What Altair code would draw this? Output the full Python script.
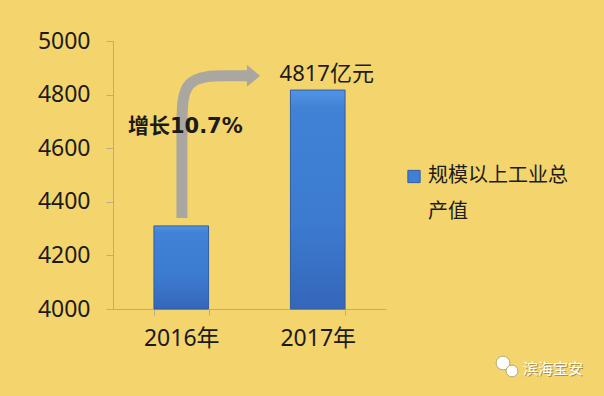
import altair as alt
import pandas as pd

# Industrial output above designated size, in 100-million yuan
years = ["2016年", "2017年"]
output = [4310, 4817]
series_name = "规模以上工业总产值"
unit = "亿元"
growth_text = "增长10.7%"
y_ticks = [4000, 4200, 4400, 4600, 4800, 5000]
watermark = "滨海宝安"

# growth arrow path: position along the category axis (0..2) and value
arrow_pos = [0.505, 0.505, 0.505, 0.505, 0.855, 0.985, 0.985]
arrow_val = [4340, 4340, 4690, 4870, 4870, 4870, 4870]

BG = "#F4D46C"
AXIS = "#B9AD86"
TEXT = "#1b1b1b"
LATIN = "Noto Sans, Noto Sans CJK SC"
CJK = "Noto Sans CJK SC"

bars_df = pd.DataFrame({"year": years, "value": output, "base": [y_ticks[0]] * len(years)})
arrow_df = pd.DataFrame({"pos": arrow_pos, "val": arrow_val, "order": list(range(len(arrow_pos)))})
one = pd.DataFrame({"name": [series_name]})

bar_fill = alt.Gradient(
    gradient="linear",
    stops=[
        alt.GradientStop(color="#5294E4", offset=0),
        alt.GradientStop(color="#4182D6", offset=0.08),
        alt.GradientStop(color="#3C7BD0", offset=0.6),
        alt.GradientStop(color="#3566BA", offset=1),
    ],
    x1=0, x2=0, y1=0, y2=1,
)

y_scale = alt.Scale(domain=[y_ticks[0], y_ticks[-1]], nice=False, zero=False)
x_band = alt.Scale(paddingInner=0.6, paddingOuter=0.3)

x_axis = alt.Axis(labelAngle=0, tickBand="extent", ticks=True, tickSize=6, labelPadding=12,
                  labelFont=LATIN, labelFontSize=23, labelColor=TEXT,
                  domainColor=AXIS, tickColor=AXIS, labelBaseline="top", grid=False)
y_axis = alt.Axis(values=y_ticks, format="d", grid=False, ticks=True, tickSize=7, labelPadding=16,
                  labelFont=LATIN, labelFontSize=23, labelColor=TEXT,
                  domainColor=AXIS, tickColor=AXIS)

bars = alt.Chart(bars_df).mark_bar(color=bar_fill, stroke="#2F5DA5", strokeWidth=1).encode(
    x=alt.X("year:N", scale=x_band, sort=years, title=None, axis=x_axis),
    y=alt.Y("value:Q", scale=y_scale, title=None, axis=y_axis),
    y2="base:Q",
)

value_label = alt.Chart(bars_df).transform_filter(
    alt.datum.year == years[-1]
).transform_calculate(
    label="datum.value + '" + unit + "'"
).mark_text(font=LATIN, fontSize=22, color=TEXT, baseline="middle", dy=-16, dx=9).encode(
    x=alt.X("year:N", scale=x_band, sort=years, title=None, axis=x_axis),
    y=alt.Y("value:Q", scale=y_scale, title=None, axis=y_axis),
    text="label:N",
)

bar_layer = alt.layer(bars, value_label)

x_lin = alt.Scale(domain=[0, 2], nice=False, zero=False)

arrow_line = alt.Chart(arrow_df).mark_line(
    color="#A9A79F", strokeWidth=11, interpolate="basis", strokeCap="butt"
).encode(
    x=alt.X("pos:Q", scale=x_lin, axis=None),
    y=alt.Y("val:Q", scale=y_scale, title=None, axis=y_axis),
    order="order:Q",
)

arrow_head = alt.Chart(arrow_df.tail(1)).mark_point(
    shape="M-0.6,-1L0.6,0L-0.6,1Z", filled=True, color="#A9A79F", opacity=1, size=484
).encode(
    x=alt.X("pos:Q", scale=x_lin, axis=None),
    y=alt.Y("val:Q", scale=y_scale, title=None, axis=y_axis),
    xOffset=alt.value(6),
)

growth_label = alt.Chart(one).mark_text(
    text=growth_text, font="DejaVu Sans, Noto Sans CJK SC", fontWeight="bold",
    fontSize=21, color=TEXT, baseline="middle", align="center"
).encode(
    x=alt.datum(0.53, type="quantitative", scale=x_lin, axis=None),
    y=alt.datum(4680, type="quantitative", scale=y_scale, title=None, axis=y_axis),
)

arrow_layer = alt.layer(arrow_line, arrow_head, growth_label)

# legend drawn beside the plot
legend_sym = alt.Chart(one).mark_square(
    size=150, color="#3F80D4", stroke="#2F5DA5", strokeWidth=1, opacity=1
).encode(x=alt.value(301), y=alt.value(135.5))

legend_txt = alt.Chart(one).transform_calculate(
    label="slice(datum.name, 0, 7) + '\\n' + slice(datum.name, 7)"
).mark_text(
    font=CJK, fontSize=20, color=TEXT, align="left", baseline="top", lineBreak="\n", lineHeight=36
).encode(x=alt.value(315), y=alt.value(125), text="label:N")

# account watermark in the corner
wm_df = pd.DataFrame({"name": [watermark]})
wm_icon_big = alt.Chart(wm_df).mark_circle(
    size=190, color="#FFFFFF", opacity=1, stroke="#B7A877", strokeWidth=1
).encode(x=alt.value(390), y=alt.value(322))
wm_icon_small = alt.Chart(wm_df).mark_circle(
    size=140, color="#FFFFFF", opacity=1, stroke="#B7A877", strokeWidth=1
).encode(x=alt.value(399), y=alt.value(330))
wm_shadow = alt.Chart(wm_df).mark_text(
    font=CJK, fontSize=15, color="#A89258", align="left", baseline="middle"
).encode(x=alt.value(411), y=alt.value(329), text="name:N")
wm_text = alt.Chart(wm_df).mark_text(
    font=CJK, fontSize=15, color="#FFFFFF", align="left", baseline="middle"
).encode(x=alt.value(410), y=alt.value(328), text="name:N")

chart = alt.layer(
    bar_layer, arrow_layer, legend_sym, legend_txt,
    wm_icon_big, wm_icon_small, wm_shadow, wm_text
).resolve_scale(x="independent").properties(
    width=273,
    height=268,
    autosize="none",
    padding={"left": 113, "top": 41, "right": 218, "bottom": 87},
    background=BG,
).configure_view(stroke=None)

chart.save("out.html", embed_options={"renderer": "svg", "actions": False})
